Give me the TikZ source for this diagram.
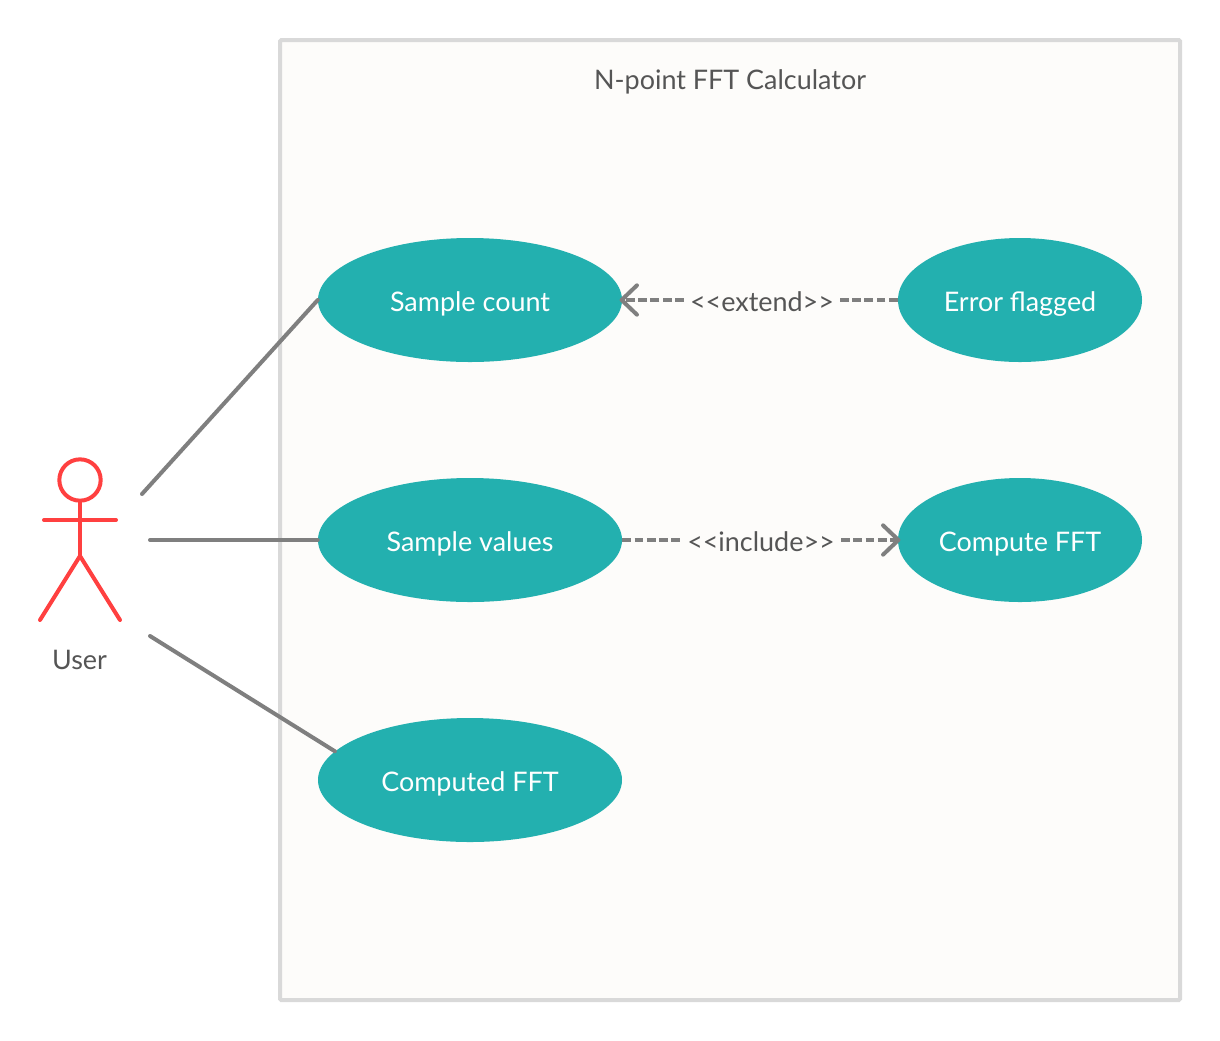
\documentclass[tikz,border=0pt]{standalone}
\usepackage{fontspec}
\setmainfont{Lato}
\usetikzlibrary{shapes.geometric,arrows.meta}
\definecolor{teal}{HTML}{23B0AF}
\definecolor{conn}{HTML}{7F7F7F}
\definecolor{actorred}{HTML}{FF4040}
\definecolor{frameline}{HTML}{D9D9D9}
\definecolor{framefill}{HTML}{FDFCFA}
\definecolor{txt}{HTML}{555555}
\tikzset{
  px/.style={x=0.75pt,y=-0.75pt},
  usecase/.style={ellipse,fill=teal,text=white,minimum width=228pt,minimum height=93pt,inner sep=0pt,text height=20pt,text depth=3pt,font=\fontsize{20.2}{24}\selectfont},
  label/.style={text=txt,inner sep=0pt,font=\fontsize{20.2}{24}\selectfont},
  conlabel/.style={text=txt,inner xsep=4.5pt,inner ysep=0pt,font=\fontsize{20.2}{24}\selectfont},
  assoc/.style={draw=conn,line width=3pt,line cap=round},
  dep/.style={draw=conn,line width=2.6pt,dash pattern=on 6.6pt off 2.6pt},
  openarrow/.style={-{Straight Barb[length=11.5pt,width=22pt,line width=3pt,round]}},
  actorline/.style={draw=actorred,line width=3pt,line cap=round},
}
\begin{document}
\begin{tikzpicture}[px]
\useasboundingbox (0,0) rectangle (1220,1040);
\fill[white] (0,0) rectangle (1220,1040);
\draw[frameline,fill=framefill,line width=3pt,rounded corners=1pt] (280,40) rectangle (1180,1000);
\node[label] (title) at (730,82) {N-point FFT Calculator};

\node[usecase] (count) at (470,300) {Sample count};
\node[usecase] (values) at (470,540) {Sample values};
\node[usecase] (computed) at (470,780) {Computed FFT};
\node[usecase,minimum width=183pt] (error) at (1020,300) {Error flagged};
\node[usecase,minimum width=183pt] (compute) at (1020,540) {Compute FFT};

% actor
\node[circle,draw=actorred,line width=3pt,minimum size=31pt,inner sep=0pt] (head) at (80,480) {};
\coordinate (hip) at (80,556);
\coordinate (armL) at (44,520);
\coordinate (armR) at (116,520);
\coordinate (legL) at (40,620);
\coordinate (legR) at (120,620);
\draw[actorline] (head.south) -- (hip);
\draw[actorline] (armL) -- (armR);
\draw[actorline,line join=round] (legL) -- (hip) -- (legR);
\node[label] (user) at (79.5,660) {User};

% associations
\coordinate (a1) at (142,494);
\coordinate (a2) at (150,540);
\coordinate (a3) at (150,636);
\draw[assoc] (a1) -- (count.west);
\draw[assoc] (a2) -- (values.west);
\draw[assoc] (a3) -- (computed.168.5);

% dependencies
\node[conlabel] (ext) at (762,302) {<{}<extend>{}>};
\node[conlabel] (inc) at (761,542) {<{}<include>{}>};
\draw[dep] (error.west) -- (ext.east |- error.west);
\draw[dep,openarrow] (ext.west |- count.east) -- ([xshift=-2pt]count.east);
\draw[dep] (values.east) -- (inc.west |- values.east);
\draw[dep,openarrow] (inc.east |- compute.west) -- ([xshift=2pt]compute.west);
\end{tikzpicture}
\end{document}
